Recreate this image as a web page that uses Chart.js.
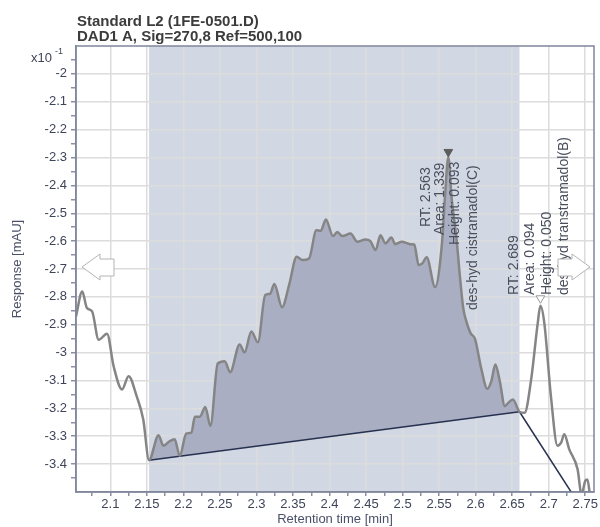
<!DOCTYPE html>
<html>
<head>
<meta charset="utf-8">
<script src="https://cdn.jsdelivr.net/npm/chart.js@4.4.1/dist/chart.umd.min.js"></script>
<style>
    html, body { margin: 0; padding: 0; background: #ffffff; }
</style>
</head>
<body>
<canvas id="myChart" width="600" height="527"></canvas>
<script>
// 圖表資料
var titleLines = ['Standard L2 (1FE-0501.D)', 'DAD1 A, Sig=270,8 Ref=500,100'];

var retentionTime = [
    2.053, 2.0615, 2.068, 2.075, 2.084, 2.0955, 2.1045, 2.116, 2.125, 2.136, 2.145,
    2.153, 2.166, 2.1725, 2.181, 2.188, 2.195, 2.204, 2.211, 2.2157, 2.2224, 2.230, 2.237,
    2.247, 2.2565, 2.264, 2.277, 2.2837, 2.293, 2.302, 2.312, 2.3186, 2.3245, 2.335, 2.345,
    2.355, 2.363, 2.372, 2.382, 2.388, 2.395, 2.4048, 2.4106, 2.4174, 2.4288, 2.438, 2.449,
    2.456, 2.463, 2.4697, 2.4765, 2.4846, 2.490, 2.499, 2.5105, 2.516, 2.522, 2.527, 2.533,
    2.5445, 2.5535, 2.558, 2.5626, 2.567, 2.574, 2.5785, 2.583, 2.5875, 2.593, 2.599, 2.608,
    2.616, 2.6215, 2.627, 2.633, 2.640, 2.644, 2.651, 2.660, 2.667, 2.676, 2.685, 2.6887,
    2.694, 2.703, 2.712, 2.717, 2.7213, 2.728, 2.7395, 2.745, 2.750, 2.753, 2.757, 2.762
];
var response = [
    -2.870, -2.781, -2.840, -2.852, -2.954, -2.932, -3.049, -3.132, -3.085, -3.156, -3.239,
    -3.386, -3.296, -3.334, -3.318, -3.311, -3.370, -3.290, -3.287, -3.230, -3.230, -3.195, -3.263,
    -3.039, -3.031, -3.070, -2.971, -2.999, -2.924, -2.963, -2.793, -2.789, -2.754, -2.837, -2.754,
    -2.656, -2.668, -2.662, -2.561, -2.563, -2.522, -2.582, -2.567, -2.582, -2.573, -2.602, -2.594,
    -2.600, -2.632, -2.579, -2.608, -2.587, -2.611, -2.602, -2.611, -2.612, -2.686, -2.680, -2.658,
    -2.765, -2.620, -2.442, -2.299, -2.442, -2.596, -2.727, -2.840, -2.890, -2.930, -2.950, -3.061,
    -3.130, -3.102, -3.043, -3.102, -3.192, -3.182, -3.168, -3.212, -3.216, -3.096, -2.894, -2.832,
    -2.894, -3.156, -3.334, -3.323, -3.293, -3.346, -3.418, -3.510, -3.460, -3.455, -3.520, -3.560
];

// 積分基線
var baseline1Time = [2.153, 2.660];
var baseline1Resp = [-3.386, -3.212];
var baseline2Time = [2.660, 2.745];
var baseline2Resp = [-3.212, -3.558];
var integratedRange = [2.153, 2.660];

// 峰標記
var peakRT = [2.5626, 2.6887];
var peakMarkerY = [-2.28, -2.805];
var peakLabels = [
    ['RT: 2.563', 'Area: 1.339', 'Height: 0.093', 'des-hyd cistramadol(C)'],
    ['RT: 2.689', 'Area: 0.094', 'Height: 0.050', 'des-hyd transtramadol(B)']
];

var xTicks = [2.1, 2.15, 2.2, 2.25, 2.3, 2.35, 2.4, 2.45, 2.5, 2.55, 2.6, 2.65, 2.7, 2.75];
var yTicks = [-2, -2.1, -2.2, -2.3, -2.4, -2.5, -2.6, -2.7, -2.8, -2.9, -3, -3.1, -3.2, -3.3, -3.4];

// 標籤位置 (px, 相對峰頂)
var labelLayout = [
    { dx: [-22, -8, 7, 25], bottom: [227, 235, 245, 310] },
    { dx: [-26, -10, 7, 24], bottom: [295, 295, 295, 295] }
];

var FONT = "'Liberation Sans', Arial, sans-serif";
var tickColor = '#3e4559';
var frameColor = '#80879c';

function isMajor(list, v) {
    return list.some(t => Math.abs(t - v) < 1e-6);
}
function withMinor(list) {
    var out = [];
    var step = list[1] - list[0];
    list.forEach(function (t) {
        out.push(t);
        out.push(Math.round((t + step / 2) * 10000) / 10000);
    });
    out.unshift(Math.round((list[0] - step / 2) * 10000) / 10000);
    return out;
}
function toPoints(xs, ys) {
    return xs.map((x, i) => ({ x: x, y: ys[i] }));
}

var curvePoints = toPoints(retentionTime, response);
var fillPoints = curvePoints.filter(p => p.x >= integratedRange[0] - 1e-9 && p.x <= integratedRange[1] + 1e-9);

var decorPlugin = {
    id: 'decor',
    beforeDraw: function (chart) {
        var ctx = chart.ctx, area = chart.chartArea, x = chart.scales.x;
        ctx.save();
        ctx.fillStyle = '#d2d8e3';
        var x0 = x.getPixelForValue(integratedRange[0]);
        var x1 = x.getPixelForValue(integratedRange[1]);
        ctx.fillRect(x0, area.top, x1 - x0, area.bottom - area.top);
        ctx.restore();
    },
    afterDatasetsDraw: function (chart) {
        var ctx = chart.ctx, area = chart.chartArea, x = chart.scales.x, y = chart.scales.y;
        ctx.save();
        // 峰標籤 (直書)
        ctx.font = '14px ' + FONT;
        ctx.fillStyle = '#4a4f5e';
        ctx.textAlign = 'left';
        ctx.textBaseline = 'middle';
        peakLabels.forEach(function (lines, p) {
            var px = x.getPixelForValue(peakRT[p]);
            lines.forEach(function (txt, i) {
                ctx.save();
                ctx.translate(px + labelLayout[p].dx[i], labelLayout[p].bottom[i]);
                ctx.rotate(-Math.PI / 2);
                ctx.fillText(txt, 0, 0);
                ctx.restore();
            });
        });
        // 左右捲動箭頭
        var midY = (area.top + area.bottom) / 2 - 2;
        function arrow(tipX, dir) {
            ctx.beginPath();
            ctx.moveTo(tipX, midY);
            ctx.lineTo(tipX + dir * 18, midY - 13);
            ctx.lineTo(tipX + dir * 18, midY - 8);
            ctx.lineTo(tipX + dir * 32, midY - 8);
            ctx.lineTo(tipX + dir * 32, midY + 9);
            ctx.lineTo(tipX + dir * 18, midY + 9);
            ctx.lineTo(tipX + dir * 18, midY + 13);
            ctx.closePath();
            ctx.fillStyle = '#ffffff';
            ctx.fill();
            ctx.strokeStyle = '#b4b4b4';
            ctx.lineWidth = 1;
            ctx.stroke();
        }
        arrow(area.left + 6, 1);
        arrow(area.right - 4, -1);
        ctx.restore();
    },
    afterDraw: function (chart) {
        var ctx = chart.ctx, area = chart.chartArea;
        ctx.save();
        ctx.strokeStyle = frameColor;
        ctx.lineWidth = 1.5;
        ctx.strokeRect(area.left, area.top, area.right - area.left, area.bottom - area.top);
        // 標題
        ctx.fillStyle = '#3c3c3c';
        ctx.font = 'bold 15px ' + FONT;
        ctx.textAlign = 'left';
        ctx.textBaseline = 'alphabetic';
        ctx.fillText(titleLines[0], 77, 26);
        ctx.fillText(titleLines[1], 77, 41);
        // x10^-1
        ctx.fillStyle = tickColor;
        ctx.font = '13px ' + FONT;
        ctx.fillText('x10', 31, 62);
        ctx.font = '9px ' + FONT;
        ctx.fillText('-1', 55, 54);
        ctx.restore();
    }
};

var ctx = document.getElementById('myChart').getContext('2d');
var myChart = new Chart(ctx, {
    type: 'line',
    data: {
        datasets: [
            {
                label: 'signal',
                data: curvePoints,
                borderColor: '#858585',
                borderWidth: 2.5,
                pointRadius: 0,
                cubicInterpolationMode: 'monotone',
                fill: false,
                order: 1
            },
            {
                label: 'baseline1',
                data: toPoints(baseline1Time, baseline1Resp),
                borderColor: '#263150',
                borderWidth: 1.5,
                pointRadius: 0,
                fill: false,
                order: 2
            },
            {
                label: 'baseline2',
                data: toPoints(baseline2Time, baseline2Resp),
                borderColor: '#263150',
                borderWidth: 1.5,
                pointRadius: 0,
                fill: false,
                order: 2
            },
            {
                label: 'peaks',
                data: toPoints(peakRT, peakMarkerY),
                showLine: false,
                pointStyle: 'triangle',
                rotation: 180,
                pointRadius: 5,
                backgroundColor: ['#5c5c5c', '#ffffff'],
                borderColor: ['#5c5c5c', '#9a9a9a'],
                borderWidth: 1,
                order: 0
            },
            {
                label: 'area',
                data: fillPoints,
                borderWidth: 0,
                borderColor: 'rgba(0,0,0,0)',
                backgroundColor: '#a9aec2',
                pointRadius: 0,
                cubicInterpolationMode: 'monotone',
                fill: 1,
                order: 3
            }
        ]
    },
    options: {
        responsive: false,
        animation: false,
        layout: { padding: { top: 46, right: 3, left: 0, bottom: 0 } },
        plugins: {
            legend: { display: false },
            tooltip: { enabled: false },
            title: { display: false }
        },
        scales: {
            x: {
                type: 'linear',
                min: 2.053,
                max: 2.762,
                afterBuildTicks: function (scale) {
                    scale.ticks = withMinor(xTicks).filter(v => v >= scale.min && v <= scale.max).map(v => ({ value: v }));
                },
                afterFit: function (scale) { scale.height = 35; },
                ticks: {
                    autoSkip: false,
                    maxRotation: 0,
                    padding: 1,
                    color: tickColor,
                    font: { family: FONT, size: 13 },
                    callback: function (v) { return isMajor(xTicks, v) ? String(Math.round(v * 1000) / 1000) : ''; }
                },
                grid: {
                    color: function (c) { return c.tick && isMajor(xTicks, c.tick.value) ? '#dcdcdc' : 'rgba(0,0,0,0)'; },
                    lineWidth: 1.5,
                    tickLength: 4,
                    tickColor: '#8a90a2'
                },
                border: { display: true, color: frameColor, width: 1.5 },
                title: {
                    display: true,
                    text: 'Retention time [min]',
                    color: '#4a5068',
                    font: { family: FONT, size: 13 },
                    padding: { top: 0, bottom: 0 }
                }
            },
            y: {
                type: 'linear',
                min: -3.5,
                max: -1.9,
                afterBuildTicks: function (scale) {
                    scale.ticks = withMinor(yTicks.slice().reverse()).filter(v => v >= scale.min && v <= scale.max).map(v => ({ value: v }));
                },
                afterFit: function (scale) { scale.width = 76; },
                ticks: {
                    autoSkip: false,
                    padding: 4,
                    color: tickColor,
                    font: { family: FONT, size: 13 },
                    callback: function (v) { return isMajor(yTicks, v) ? String(Math.round(v * 1000) / 1000) : ''; }
                },
                grid: {
                    color: function (c) { return c.tick && isMajor(yTicks, c.tick.value) ? '#dcdcdc' : 'rgba(0,0,0,0)'; },
                    lineWidth: 1.5,
                    tickLength: 5,
                    tickColor: '#8a90a2'
                },
                border: { display: true, color: frameColor, width: 1.5 },
                title: {
                    display: true,
                    text: 'Response [mAU]',
                    color: '#4a5068',
                    font: { family: FONT, size: 13 },
                    padding: { top: 10, bottom: 0 }
                }
            }
        }
    },
    plugins: [decorPlugin]
});
</script>
</body>
</html>
